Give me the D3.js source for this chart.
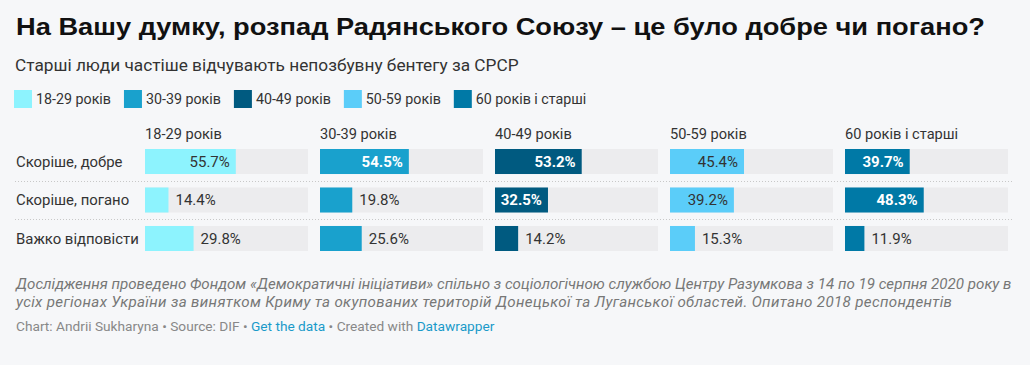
<!DOCTYPE html>
<html><head><meta charset="utf-8">
<script src="https://cdn.jsdelivr.net/npm/d3@7"></script>
<style>
html,body{margin:0;padding:0;background:#f6f7f9;}
svg{display:block;font-family:Roboto,"Noto Sans",sans-serif;}
</style></head>
<body>
<svg id="c" width="1030" height="365"></svg>
<script>
const title = "На Вашу думку, розпад Радянського Союзу – це було добре чи погано?";
const subtitle = "Старші люди частіше відчувають непозбувну бентегу за СРСР";
const groups = ["18-29 років", "30-39 років", "40-49 років", "50-59 років", "60 років і старші"];
const colors = ["#8df3fe", "#19a1cd", "#005a80", "#5bcdf9", "#0079a6"];
const darkText = [true, false, false, true, false];
const answers = ["Скоріше, добре", "Скоріше, погано", "Важко відповісти"];
const v18_29 = [55.7, 14.4, 29.8];
const v30_39 = [54.5, 19.8, 25.6];
const v40_49 = [53.2, 32.5, 14.2];
const v50_59 = [45.4, 39.2, 15.3];
const v60plus = [39.7, 48.3, 11.9];
const series = [v18_29, v30_39, v40_49, v50_59, v60plus];
const noteLines = [
  "Дослідження проведено Фондом «Демократичні ініціативи» спільно з соціологічною службою Центру Разумкова з 14 по 19 серпня 2020 року в",
  "усіх регіонах України за винятком Криму та окупованих територій Донецької та Луганської областей. Опитано 2018 респондентів"
];

const svg = d3.select("#c");
svg.append("rect").attr("width",1030).attr("height",365).attr("fill","#f6f7f9");

const tt = svg.append("text").attr("x",16).attr("y",35).text(title)
  .attr("font-family","'Liberation Sans',Arial,sans-serif")
  .attr("font-size",24).attr("font-weight",700).attr("fill","#111");
{ const w = tt.node().getComputedTextLength(); if (Math.abs(w-969)>4) tt.attr("textLength",969).attr("lengthAdjust","spacingAndGlyphs"); }
svg.append("text").attr("x",15).attr("y",71).text(subtitle)
  .attr("font-size",17.25).attr("fill","#333");

// legend
const leg = svg.append("g");
let lx = 14;
groups.forEach((g,i)=>{
  leg.append("rect").attr("x",lx).attr("y",90).attr("width",18).attr("height",18).attr("fill",colors[i]);
  const t = leg.append("text").attr("x",lx+22).attr("y",104).text(g).attr("font-size",14.25).attr("fill","#333");
  lx = lx + 22 + t.node().getComputedTextLength() + 13;
});

const col = d3.scaleBand().domain(groups).range([145,1008]).paddingInner(12/175);
const row = d3.scaleBand().domain(answers).range([149,251]).paddingInner(0.35);
const x = d3.scaleLinear().domain([0,100]).range([0,col.bandwidth()]);

// dividers
const step = row.step();
answers.slice(1).forEach(a=>{
  const y = Math.round(row(a) - (step-row.bandwidth())/2) + 0.5;
  svg.append("line").attr("x1",15).attr("x2",1012).attr("y1",y).attr("y2",y)
    .attr("stroke","#c8c8c8").attr("stroke-dasharray","1,2");
});

// row labels
answers.forEach(a=>{
  svg.append("text").attr("x",16).attr("y",row(a)+row.bandwidth()/2).attr("dy","0.35em")
    .text(a).attr("font-size",14.9).attr("fill","#333");
});

groups.forEach((g,gi)=>{
  const gx = col(g);
  svg.append("text").attr("x",gx).attr("y",139).text(g).attr("font-size",14.6).attr("fill","#333");
  const cg = svg.append("g").attr("transform",`translate(${gx},0)`);
  answers.forEach((a,ai)=>{
    const v = series[gi][ai];
    const y = row(a);
    cg.append("rect").attr("x",0).attr("y",y).attr("width",col.bandwidth()).attr("height",row.bandwidth()).attr("fill","#ececee");
    cg.append("rect").attr("x",0).attr("y",y).attr("width",x(v)).attr("height",row.bandwidth()).attr("fill",colors[gi]);
    const lbl = cg.append("text").attr("y",y+row.bandwidth()/2).attr("dy","0.35em")
      .text(v.toFixed(1)+"%").attr("font-size",15);
    const tw = lbl.node().getComputedTextLength();
    if (x(v) >= tw + 12) {
      lbl.attr("x",x(v)-6).attr("text-anchor","end")
        .attr("fill", darkText[gi] ? "#333" : "#fff")
        .attr("font-weight", darkText[gi] ? 400 : 700);
    } else {
      lbl.attr("x",x(v)+7).attr("fill","#333");
    }
  });
});

// notes
const noteW = [996, 936];
const notes = noteLines.map((l,i)=> svg.append("text").attr("x",16).attr("y",288.5+i*18.2).text(l)
    .attr("font-size",15).attr("font-style","italic").attr("fill","#777"));
{
  const w1 = notes[0].node().getComputedTextLength();
  const fs = 15 * 996 / w1;
  notes.forEach((n,i)=>{
    n.attr("font-size",fs);
    const w = n.node().getComputedTextLength();
    if (Math.abs(w-noteW[i])>3) n.attr("textLength",noteW[i]).attr("lengthAdjust","spacing");
  });
}
const cr = svg.append("text").attr("x",16).attr("y",331).attr("font-size",13.7).attr("fill","#888");
cr.append("tspan").text("Chart: Andrii Sukharyna • Source: DIF • ");
cr.append("tspan").text("Get the data").attr("fill","#1a9ac9");
cr.append("tspan").text(" • Created with ");
cr.append("tspan").text("Datawrapper").attr("fill","#1a9ac9");
</script>
</body></html>
